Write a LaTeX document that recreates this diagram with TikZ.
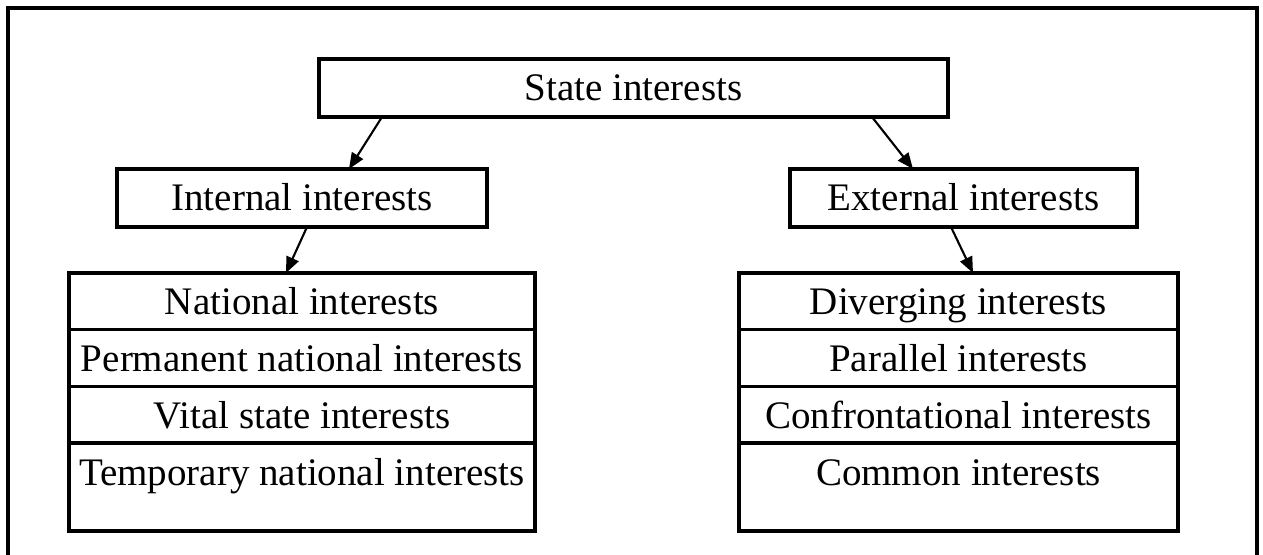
\documentclass[tikz,border=0pt]{standalone}
\usepackage{fontspec}
\setmainfont{Liberation Serif}
\usetikzlibrary{arrows.meta}
\begin{document}
\begin{tikzpicture}[
  box/.style={draw, line width=1pt, inner sep=0pt, outer sep=0pt, minimum height=0.58cm, text height=0.42cm, text depth=0.16cm, font=\fontsize{11.1pt}{13pt}\selectfont},
  row/.style={box, anchor=north, minimum height=0.567cm, text height=0.42cm, text depth=0.147cm},
  lastrow/.style={row, minimum height=0.88cm, text depth=0.46cm},
  link/.style={-{Triangle[length=1.6mm,width=1.3mm]}, line width=0.6pt}]
\useasboundingbox (0,0) rectangle (12.63,-5.55);
\draw [line width=1.1pt] (0.08,-0.08) rectangle (12.57,-5.8); 
\node [box, minimum width=6.29cm] (state) at (6.335,-0.88) {State interests};
\node [box, minimum width=3.70cm] (int) at (3.02,-1.98) {Internal interests};
\node [box, minimum width=3.47cm] (ext) at (9.635,-1.98) {External interests};
\foreach \a/\b [count=\i] in {National interests/Diverging interests, Permanent national interests/Parallel interests, Vital state interests/Confrontational interests} {
  \node [row, minimum width=4.66cm] (l\i) at (3.02,{-2.73-0.567*(\i-1)}) {\a};
  \node [row, minimum width=4.39cm] (r\i) at (9.585,{-2.73-0.567*(\i-1)}) {\b};
}
\node [lastrow, minimum width=4.66cm] (l4) at (l3.south) {Temporary national interests};
\node [lastrow, minimum width=4.39cm] (r4) at (r3.south) {Common interests};
\draw [link] ([xshift=0.63cm]state.south west) -- ([xshift=2.32cm]int.north west); 
\draw [link] ([xshift=-0.76cm]state.south east) -- ([xshift=1.23cm]ext.north west); 
\draw [link] ([xshift=1.90cm]int.south west) -- ([xshift=2.17cm]l1.north west); 
\draw [link] ([xshift=1.61cm]ext.south west) -- ([xshift=2.34cm]r1.north west); 
\end{tikzpicture}
\end{document}
